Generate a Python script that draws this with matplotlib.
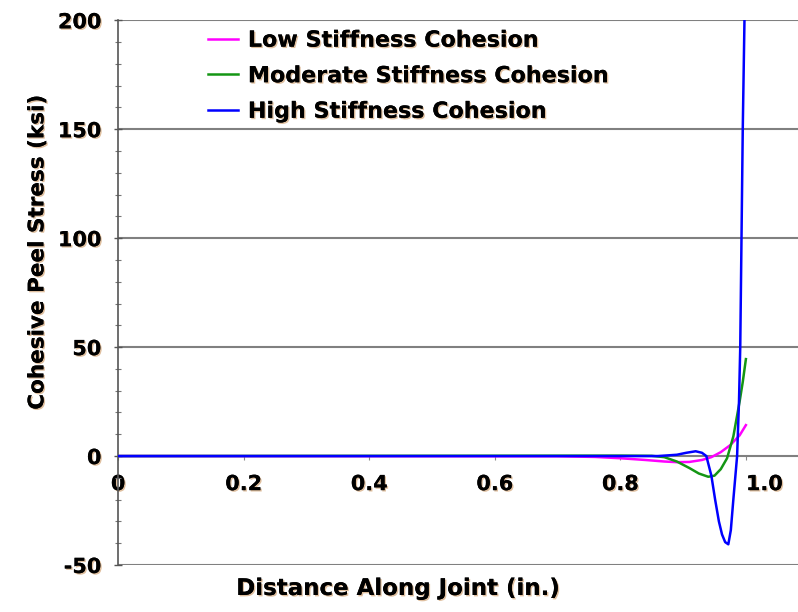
import matplotlib.pyplot as plt
import matplotlib.patheffects as pe
from matplotlib.ticker import MultipleLocator

# ---- Data ----
x_low = [0, 0.70, 0.76, 0.80, 0.84, 0.87, 0.89, 0.91, 0.93, 0.945, 0.96, 0.975, 0.99, 1.0]
y_low = [0, -0.1, -0.4, -1.0, -1.8, -2.5, -2.8, -2.7, -1.8, -0.5, 1.8, 5.0, 9.5, 14.2]

x_mod = [0, 0.80, 0.85, 0.87, 0.89, 0.91, 0.925, 0.94, 0.95, 0.96, 0.97, 0.98,
         0.985, 0.99, 0.995, 1.0]
y_mod = [0, 0.2, 0.1, -0.5, -2.5, -5.5, -8.0, -9.5, -9.0, -6.0, -1.0, 9.0,
         17, 25, 34, 44.5]

x_high = [0, 0.86, 0.89, 0.905, 0.92, 0.93, 0.937, 0.945, 0.951, 0.957, 0.962,
          0.967, 0.972, 0.976, 0.98, 0.983, 0.986, 0.989, 0.991, 0.993, 0.995, 0.998]
y_high = [0, 0, 0.6, 1.5, 2.2, 1.5, 0, -9, -20, -30, -36,
          -39.5, -40.5, -34, -20, -10, 0, 25, 50, 100, 150, 205]

labels = ["Low Stiffness Cohesion", "Moderate Stiffness Cohesion", "High Stiffness Cohesion"]
colors = ["#ff00ff", "#149614", "#0000ff"]

xticks = [0, 0.2, 0.4, 0.6, 0.8, 1.0]
xtick_labels = ["0", "0.2", "0.4", "0.6", "0.8", "1.0"]
yticks = [-50, 0, 50, 100, 150, 200]

# ---- Plot ----
plt.rcParams['font.family'] = ['DejaVu Sans']
plt.rcParams['font.weight'] = 'bold'
plt.rcParams['axes.unicode_minus'] = False

fig = plt.figure(figsize=(7.98, 6.12), dpi=100)
ax = fig.add_axes([0.148, 0.0768, 0.852, 0.89])

shadow = [pe.withSimplePatchShadow(offset=(1, -1), shadow_rgbFace='#c08040', alpha=0.5), pe.Normal()]

for xs, ys, lab, c in zip([x_low, x_mod, x_high], [y_low, y_mod, y_high], labels, colors):
    ax.plot(xs, ys, color=c, lw=1.8, label=lab, zorder=3)

ax.set_xlim(0, 1.083)
ax.set_ylim(-50, 200)

ax.set_yticks(yticks)
ax.yaxis.set_minor_locator(MultipleLocator(10))
ax.grid(axis='y', which='major', color='#808080', lw=1.5, zorder=1)

for s in ['top', 'right']:
    ax.spines[s].set_visible(False)
ax.spines['bottom'].set_position(('data', 0))
ax.spines['bottom'].set_visible(False)
ax.spines['left'].set_color('#555555')
ax.spines['left'].set_linewidth(1.2)

ax.set_xticks(xticks)
ax.set_xticklabels(xtick_labels)
tl = ax.get_xticklabels()
tl[-1].set_horizontalalignment('left')
tl[-1].set_x(0.995)

ax.tick_params(axis='x', direction='out', length=3, width=0.8, color='#888888',
               pad=10, labelsize=15)
ax.tick_params(axis='y', which='major', direction='inout', length=6, width=1,
               color='#555555', pad=9, labelsize=15)
ax.tick_params(axis='y', which='minor', direction='inout', length=4, width=0.8,
               color='#777777')

for t in ax.get_xticklabels() + ax.get_yticklabels():
    t.set_fontweight('bold')
    t.set_path_effects(shadow)

ax.set_xlabel("Distance Along Joint (in.)", fontsize=16.5, fontweight='bold', labelpad=0,
              path_effects=shadow)
ax.xaxis.set_label_coords(0.411, -0.022)
ax.set_ylabel("Cohesive Peel Stress (ksi)", fontsize=15.5, fontweight='bold',
              path_effects=shadow)
ax.yaxis.set_label_coords(-0.104, 0.574)

leg = ax.legend(loc='upper left', bbox_to_anchor=(0.132, 0.981), frameon=False,
                fontsize=16, handlelength=1.35, handletextpad=0.45, labelspacing=0.70,
                borderaxespad=0, borderpad=0)
for t in leg.get_texts():
    t.set_fontweight('bold')
    t.set_path_effects(shadow)

fig.savefig('out.png', dpi=100)
